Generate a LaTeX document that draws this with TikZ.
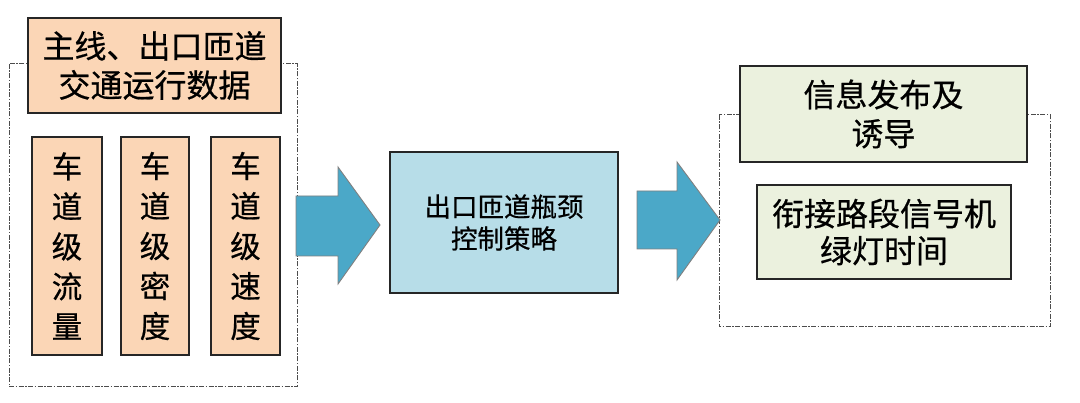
\documentclass[tikz,border=0pt]{standalone}
\usepackage{fontspec}
\setmainfont[FakeBold=0.6]{Noto Sans CJK SC}
\begin{document}
\begin{tikzpicture}[x=1pt,y=-1pt,
  box/.style={draw=black!85,line width=1.1pt,inner sep=0pt,align=center},
  peach/.style={box,fill=peachc},
  greenbox/.style={box,fill=greenc},
  dashbox/.style={draw=black!70,line width=1pt,dash pattern=on 5pt off 1.5pt on 1.5pt off 1.5pt},
  bigarrow/.style={fill=arrowc,draw=black!50,line width=0.9pt,line join=miter},
  big/.style={font=\fontsize{32}{39}\selectfont},
  vert/.style={font=\fontsize{30.5}{40}\selectfont}]
\definecolor{peachc}{HTML}{FBD6B6}
\definecolor{bluec}{HTML}{B7DDE8}
\definecolor{arrowc}{HTML}{4BA8C8}
\definecolor{greenc}{HTML}{EBF1DE}
\useasboundingbox (0,0) rectangle (1080,403);
% dashed containers
\draw[dashbox] (9,64) rectangle (297,387);
\draw[dashbox] (719,115) rectangle (1050,327);
% left group
\node[peach,big,minimum width=253pt,minimum height=95pt] (title) at (154.5,65.5) {主线、出口匝道\\交通运行数据};
\node[peach,vert,minimum width=70pt,minimum height=218pt] (flow) at (67,246) {车\\道\\级\\流\\量};
\node[peach,vert,minimum width=68pt,minimum height=218pt] (dens) at (155,246) {车\\道\\级\\密\\度};
\node[peach,vert,minimum width=69pt,minimum height=218pt] (speed) at (245.5,246) {车\\道\\级\\速\\度};
% center
\node[box,fill=bluec,font=\fontsize{26.5}{32}\selectfont,minimum width=228pt,minimum height=141pt] (ctrl) at (504,222.5) {出口匝道瓶颈\\控制策略};
% right group
\node[greenbox,big,minimum width=287pt,minimum height=96pt] (info) at (883.5,114) {信息发布及\\诱导};
\node[greenbox,minimum width=254pt,minimum height=94pt,font=\fontsize{32}{37}\selectfont] (green) at (884,232) {衔接路段信号机\\绿灯时间};
% block arrows
\draw[bigarrow] (296,196) -- (338,196) -- (338,167) -- (380,225) -- (338,284) -- (338,256) -- (296,256) -- cycle;
\draw[bigarrow] (637,191) -- (677,191) -- (677,162) -- (720,220) -- (677,280) -- (677,249) -- (637,249) -- cycle;
\end{tikzpicture}
\end{document}
